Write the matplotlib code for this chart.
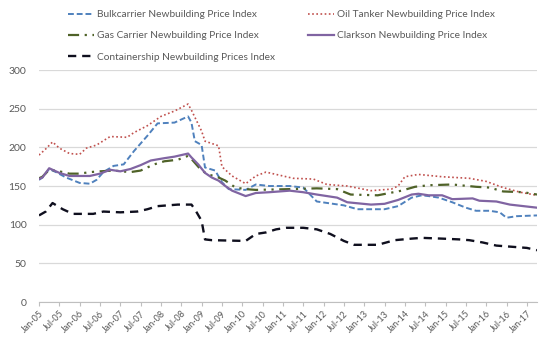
import matplotlib
matplotlib.use("Agg")
import matplotlib.pyplot as plt

plt.rcParams['font.family'] = ['Lato', 'DejaVu Sans']

# month index 0 = Jan-05, values read per series at turning points
bulk_months = [0, 1, 3, 5, 8, 12, 15, 17, 19, 22, 25, 28, 32, 35, 40, 42, 44, 45, 46, 48, 49, 52, 54, 56,
               61, 64, 68, 74, 78, 80, 82, 90, 94, 102, 106, 110, 113, 115, 118, 122, 126, 129, 133, 136,
               138, 141, 147]
bulk_values = [158, 161, 172, 168, 161, 154, 153, 158, 168, 176, 178, 195, 215, 231, 232, 236, 240, 232, 208,
               203, 174, 170, 155, 146, 145, 152, 150, 150, 148, 139, 130, 125, 120, 120, 124, 135, 138, 137,
               135, 129, 122, 118, 118, 116, 109, 111, 112]

oil_months = [0, 2, 4, 6, 9, 12, 14, 17, 21, 26, 28, 32, 36, 40, 44, 45, 48, 49, 53, 54, 57, 61, 64, 67,
              75, 81, 85, 91, 98, 104, 106, 108, 112, 119, 127, 132, 137, 142, 147]
oil_values = [190, 198, 207, 199, 192, 191, 199, 203, 214, 213, 219, 228, 240, 247, 256, 248, 221, 208, 202,
              175, 163, 153, 163, 168, 160, 159, 152, 150, 144, 146, 150, 162, 165, 162, 160, 156, 148, 142,
              138]

gas_months = [0, 1, 3, 5, 9, 12, 15, 18, 22, 27, 30, 34, 37, 41, 44, 45, 48, 50, 53, 55, 58, 61, 64, 74,
              82, 88, 92, 100, 107, 111, 115, 122, 129, 133, 137, 143, 147]
gas_values = [160, 162, 171, 170, 166, 166, 168, 169, 170, 168, 170, 178, 182, 184, 189, 185, 170, 165, 161,
              157, 148, 146, 145, 146, 147, 146, 139, 138, 144, 149, 151, 152, 149, 148, 143, 142, 139]

clarkson_months = [0, 1, 3, 6, 9, 15, 18, 21, 24, 27, 30, 33, 37, 40, 44, 45, 47, 49, 51, 53, 55, 57, 61,
                   64, 68, 74, 78, 82, 88, 91, 98, 102, 106, 110, 112, 115, 119, 122, 128, 130, 135, 139,
                   143, 147]
clarkson_values = [159, 161, 173, 167, 163, 163, 166, 171, 169, 172, 177, 183, 186, 188, 192, 187, 178, 167,
                   161, 157, 150, 144, 137, 141, 142, 144, 142, 139, 135, 129, 126, 127, 132, 139, 140, 138,
                   138, 133, 134, 131, 130, 126, 124, 122]

container_months = [0, 2, 4, 7, 10, 16, 19, 24, 29, 32, 35, 41, 45, 46, 48, 49, 51, 61, 64, 67, 70, 73, 78,
                    82, 86, 90, 93, 100, 105, 110, 113, 119, 124, 127, 131, 135, 138, 141, 144, 147]
container_values = [112, 117, 128, 120, 114, 114, 117, 116, 117, 120, 124, 126, 126, 120, 105, 81, 80, 79,
                    88, 90, 94, 96, 96, 94, 88, 79, 74, 74, 80, 82, 83, 82, 81, 80, 77, 73, 72, 71, 70, 67]

tick_months = list(range(0, 145, 6))
tick_labels = ['Jan-05', 'Jul-05', 'Jan-06', 'Jul-06', 'Jan-07', 'Jul-07', 'Jan-08', 'Jul-08', 'Jan-09',
               'Jul-09', 'Jan-10', 'Jul-10', 'Jan-11', 'Jul-11', 'Jan-12', 'Jul-12', 'Jan-13', 'Jul-13',
               'Jan-14', 'Jul-14', 'Jan-15', 'Jul-15', 'Jan-16', 'Jul-16', 'Jan-17']

grey = '#595959'

fig = plt.figure(figsize=(5.47, 3.39), dpi=100)
ax = fig.add_axes([0.0713, 0.109, 0.9104, 0.6845])

l_bulk, = ax.plot(bulk_months, bulk_values, color='#4F81BD', lw=1.4, ls=(0, (3, 1.5)))
l_oil, = ax.plot(oil_months, oil_values, color='#C0504D', lw=1.2, ls=(0, (1, 1.5)))
l_gas, = ax.plot(gas_months, gas_values, color='#4F6228', lw=1.6, ls=(0, (5, 2.5, 1, 2.5, 1, 2.5)))
l_clark, = ax.plot(clarkson_months, clarkson_values, color='#8064A2', lw=1.6)
l_cont, = ax.plot(container_months, container_values, color='#0F0F1E', lw=1.7, ls=(0, (3.5, 2.5)))

ax.set_xlim(0, 147)
ax.set_ylim(0, 300)
ax.set_yticks(range(0, 301, 50))
ax.set_xticks(tick_months)
ax.set_xticklabels(tick_labels, rotation=45, ha='right', rotation_mode='anchor')
ax.tick_params(axis='x', colors=grey, labelsize=6.5, length=3, width=0.8, color='#BFBFBF', pad=2)
ax.tick_params(axis='y', colors=grey, labelsize=7.5, length=0, pad=9)
ax.grid(axis='y', color='#D9D9D9', lw=0.9)
ax.set_axisbelow(True)
for side in ['top', 'right', 'left']:
    ax.spines[side].set_visible(False)
ax.spines['bottom'].set_color('#BFBFBF')

leg_kw = dict(frameon=False, fontsize=7.3, handlelength=2.6, handletextpad=0.3, labelspacing=1.2,
              borderaxespad=0, borderpad=0, labelcolor=grey)
fig.legend([l_bulk, l_gas, l_cont],
           ['Bulkcarrier Newbuilding Price Index', 'Gas Carrier Newbuilding Price Index',
            'Containership Newbuilding Prices Index'],
           loc='upper left', bbox_to_anchor=(68 / 547, 1 - 10 / 339), **leg_kw)
fig.legend([l_oil, l_clark],
           ['Oil Tanker Newbuilding Price Index', 'Clarkson Newbuilding Price Index'],
           loc='upper left', bbox_to_anchor=(308 / 547, 1 - 10 / 339), **leg_kw)

fig.savefig('out.png', dpi=100)
